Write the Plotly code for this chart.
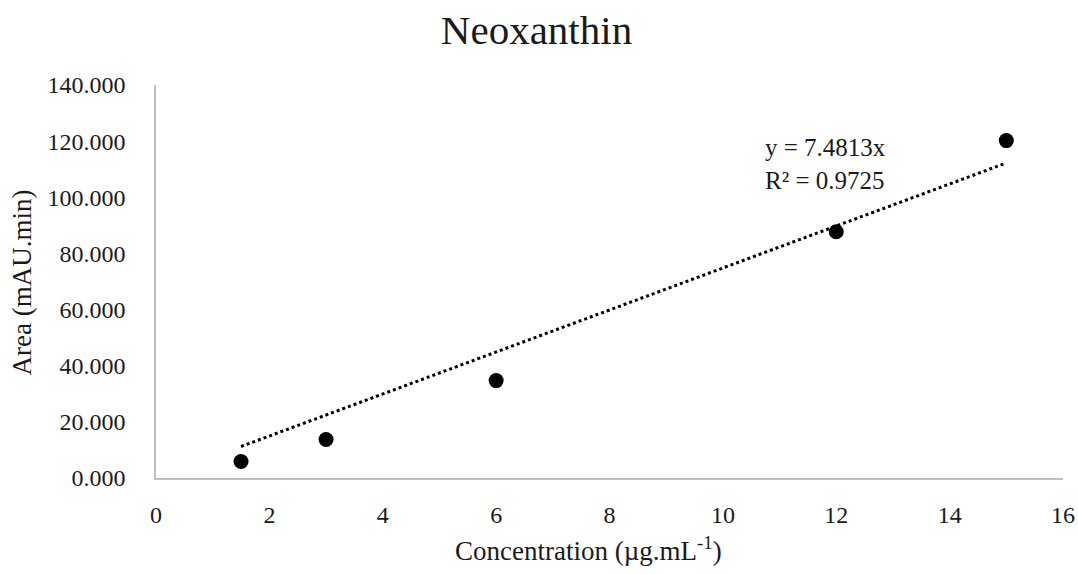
import plotly.graph_objects as go

conc = [1.5, 3, 6, 12, 15]
area = [5.9, 13.7, 34.7, 87.7, 120.2]
slope = 7.4813
r2 = 0.9725
trend_x = [1.5, 15]
trend_y = [slope * v for v in trend_x]
x_ticks = [0, 2, 4, 6, 8, 10, 12, 14, 16]
y_ticks = [0, 20, 40, 60, 80, 100, 120, 140]

FONT = "Liberation Serif"
TXT = "#1a1a1a"

fig = go.Figure()
fig.add_trace(go.Scatter(x=trend_x, y=trend_y, mode="lines",
                         line=dict(color="black", width=3, dash="dot"),
                         showlegend=False, hoverinfo="skip"))
fig.add_trace(go.Scatter(x=conc, y=area, mode="markers",
                         marker=dict(color="black", size=15),
                         showlegend=False))

fig.add_annotation(x=0.669, y=0.80, xref="paper", yref="paper",
                   xanchor="left", yanchor="middle", showarrow=False, align="left",
                   text=f"y = {slope}x<br>R² = {r2}",
                   font=dict(family=FONT, size=25, color=TXT))
fig.add_annotation(x=0.477, y=-0.18, xref="paper", yref="paper",
                   xanchor="center", yanchor="middle", showarrow=False,
                   text="Concentration (µg.mL<sup>-1</sup>)",
                   font=dict(family=FONT, size=27, color=TXT))
fig.add_annotation(x=-0.148, y=0.497, xref="paper", yref="paper",
                   xanchor="center", yanchor="middle", showarrow=False, textangle=-90,
                   text="Area (mAU.min)",
                   font=dict(family=FONT, size=27, color=TXT))

fig.update_layout(
    width=1078, height=574,
    paper_bgcolor="white", plot_bgcolor="white",
    margin=dict(l=156, r=15, t=85, b=96, autoexpand=False),
    title=dict(text="Neoxanthin", x=0.4977, xanchor="center", y=0.9477, yanchor="middle",
               font=dict(family=FONT, size=41, color=TXT)),
    font=dict(family=FONT, color=TXT),
    xaxis=dict(range=[0, 16], tickvals=x_ticks, showgrid=False, zeroline=False,
               showline=True, linecolor="#bfbfbf", linewidth=1.5, ticks="",
               tickfont=dict(size=24), ticklabelstandoff=14, automargin=False),
    yaxis=dict(range=[0, 140], tickvals=y_ticks, tickformat=".3f", showgrid=False,
               zeroline=False, showline=True, linecolor="#bfbfbf", linewidth=1.5, ticks="",
               tickfont=dict(size=24), ticklabelstandoff=24, automargin=False),
)

fig.write_html("out.html", config={"displayModeBar": False},
               post_script="document.body.style.margin='0';document.body.style.overflow='hidden';")
